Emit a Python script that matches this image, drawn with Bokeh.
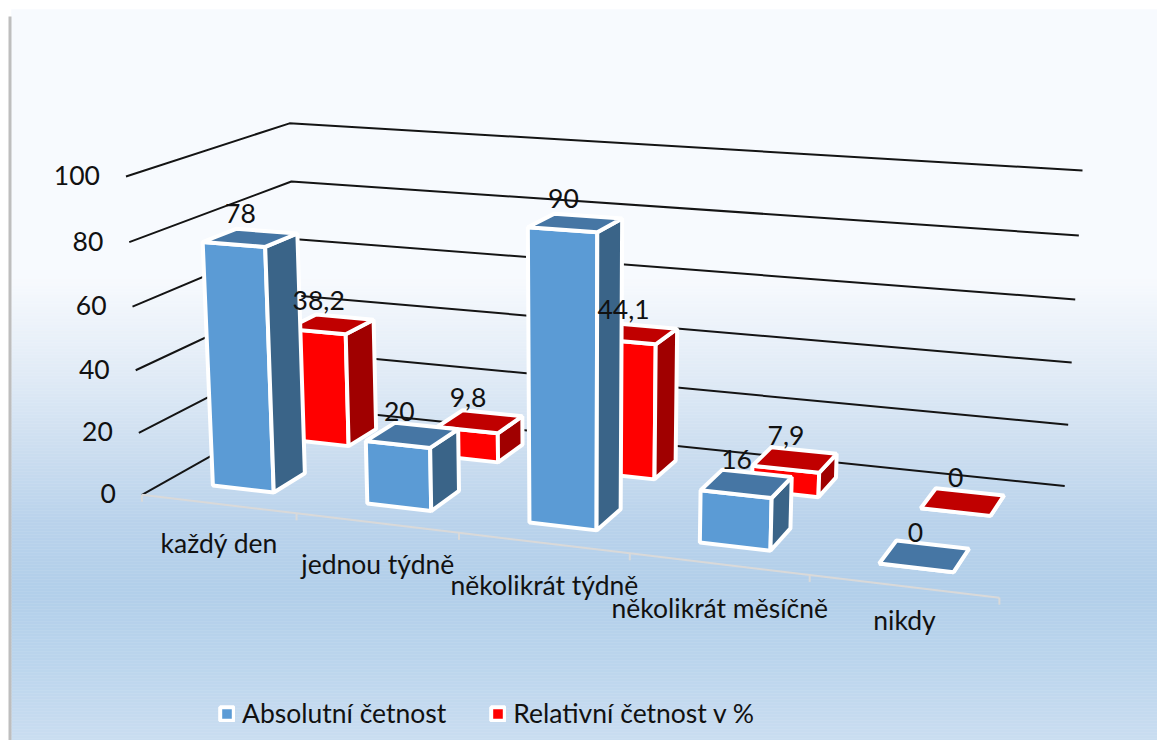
import numpy as np
from bokeh.plotting import figure
from bokeh.embed import file_html
from bokeh.resources import INLINE
from bokeh.core.properties import value
from bokeh.models import Legend, LegendItem

# ---- data ----
categories = ["každý den", "jednou týdně", "několikrát týdně", "několikrát měsíčně", "nikdy"]
absolute = [78, 20, 90, 16, 0]
relative = [38.2, 9.8, 44.1, 7.9, 0]
absolute_labels = ["78", "20", "90", "16", "0"]
relative_labels = ["38,2", "9,8", "44,1", "7,9", "0"]
value_ticks = [0, 20, 40, 60, 80, 100]
series_names = ["Absolutní četnost", "Relativní četnost v %"]

# ---- layout ----
W, H = 1157, 740
OX, OY = 0, 0
FONT = "Lato"
FS = "26.5px"
BLUE = ("#5B9BD5", "#3A6488", "#4676A4")
RED = ("#FF0000", "#A00000", "#C00000")
U_PAD = 0.3
W_BANDS = [(0.15, 0.35), (0.65, 0.85)]
CAT_LABEL_DY = [39, 41, 42, 44, 34]
ABS_LABEL_OFF = [(-10, -24), (-13, -24), (-12, -24), (-10, -24), (-9, -24)]
REL_LABEL_OFF = [(-12, -24), (-12, -24), (-11, -24), (-9, -24), (-7, -24)]

# ---- perspective calibration: (category pos, value, depth) -> picture pixels ----
calib = [
    (0, 0, 0, 143, 493), (0, 20, 0, 138, 432), (0, 40, 0, 135, 369), (0, 60, 0, 132, 306),
    (0, 80, 0, 128, 241), (0, 100, 0, 125, 175), (0, 100, 1, 290, 123), (0, 80, 1, 291, 182),
    (0, 60, 1, 293, 240), (0, 0, 1, 296, 405), (5, 100, 1, 1082, 170), (5, 80, 1, 1078, 235),
    (5, 60, 1, 1075, 299), (5, 40, 1, 1071, 362), (5, 20, 1, 1068, 423), (5, 0, 1, 1065, 485),
    (5, 0, 0, 998, 597), (1, 0, 0, 297, 515), (2, 0, 0, 459, 533), (3, 0, 0, 630, 554), (4, 0, 0, 808, 575),
]
A, b = [], []
for u, v, d, x, y in calib:
    q = (u / 5, v / 100, d)
    A.append([*q, 1, 0, 0, 0, 0, -x * q[0], -x * q[1], -x * q[2]]); b.append(x)
    A.append([0, 0, 0, 0, *q, 1, -y * q[0], -y * q[1], -y * q[2]]); b.append(y)
M = np.linalg.lstsq(np.array(A, float), np.array(b, float), rcond=None)[0]


def project(u, v, d):
    q = np.array([u / 5, v / 100, d, 1.0])
    den = M[8] * q[0] + M[9] * q[1] + M[10] * q[2] + 1
    return float(M[:4] @ q / den), float(M[4:8] @ q / den)


p = figure(width=W, height=H, x_range=(OX, OX + W), y_range=(OY + H, OY),
           x_axis_type=None, y_axis_type=None, toolbar_location=None,
           output_backend="svg", min_border=0, outline_line_color=None,
           background_fill_color="white", border_fill_color="white")
p.grid.visible = False

# ---- background gradient ----
stops_y = [9, 280, 370, 450, 520, 590, 660, 745]
stops_c = [(248, 251, 254), (247, 250, 254), (226, 236, 247), (204, 222, 240),
           (186, 211, 236), (178, 207, 234), (187, 213, 237), (203, 222, 241)]
edges = np.arange(9, 746, 3)
cols = []
for e in edges:
    c = [int(np.interp(e + 1.5, stops_y, [s[k] for s in stops_c])) for k in range(3)]
    cols.append("#%02x%02x%02x" % tuple(c))
p.quad(left=11, right=OX + W, top=edges, bottom=edges + 3, fill_color=cols, line_color=cols, line_width=0.5)
p.quad(left=[8], right=[11], top=[16], bottom=[745], fill_color="#BEBEBE", line_color=None)

# ---- gridlines (side wall + back wall) ----
gx, gy = [], []
for v in value_ticks:
    pts = [project(0, v, 0), project(0, v, 1), project(5, v, 1)]
    gx.append([a[0] for a in pts]); gy.append([a[1] for a in pts])
p.multi_line(gx, gy, line_color="#141414", line_width=2)

# ---- category axis ----
n = len(categories)
ax = [project(i, 0, 0) for i in range(n + 1)]
p.line([a[0] for a in ax], [a[1] for a in ax], line_color="#D9D9D9", line_width=2)
p.segment([a[0] for a in ax], [a[1] for a in ax], [a[0] for a in ax], [a[1] + 7 for a in ax],
          line_color="#D9D9D9", line_width=2)


# ---- bars ----
def bar_faces(values, band):
    d0, d1 = band
    front, side, top = ([], []), ([], []), ([], [])
    for i, val in enumerate(values):
        u0, u1 = i + U_PAD, i + 1 - U_PAD
        f = [project(u0, 0, d0), project(u1, 0, d0), project(u1, val, d0), project(u0, val, d0)]
        s = [project(u1, 0, d0), project(u1, 0, d1), project(u1, val, d1), project(u1, val, d0)]
        t = [project(u0, val, d0), project(u1, val, d0), project(u1, val, d1), project(u0, val, d1)]
        for store, face in ((front, f), (side, s), (top, t)):
            store[0].append([a[0] for a in face]); store[1].append([a[1] for a in face])
    return front, side, top


def draw(values, band, colours):
    front, side, top = bar_faces(values, band)
    r = p.patches(front[0], front[1], fill_color=colours[0], line_color="white", line_width=4)
    p.patches(side[0], side[1], fill_color=colours[1], line_color="white", line_width=4)
    p.patches(top[0], top[1], fill_color=colours[2], line_color="white", line_width=4)
    return r


r_rel = draw(relative, W_BANDS[1], RED)
r_abs = draw(absolute, W_BANDS[0], BLUE)

# ---- texts ----
def texts(xs, ys, labels, align="center"):
    p.text(xs, ys, text=labels, text_font=value(FONT), text_font_size=FS, text_color="#111111",
           text_align=align, text_baseline="middle")


tk = [project(0, v, 0) for v in value_ticks]
texts([a[0] - 26 for a in tk], [a[1] - 1 for a in tk], [str(v) for v in value_ticks], "right")

cx = [(ax[i][0] + ax[i + 1][0]) / 2 for i in range(n)]
cy = [(ax[i][1] + ax[i + 1][1]) / 2 + CAT_LABEL_DY[i] for i in range(n)]
texts(cx, cy, categories)


def value_labels(values, labels, band, offs):
    tops = [project(i + 0.5, v, sum(band) / 2) for i, v in enumerate(values)]
    texts([t[0] + o[0] for t, o in zip(tops, offs)], [t[1] + o[1] for t, o in zip(tops, offs)], labels)


value_labels(relative, relative_labels, W_BANDS[1], REL_LABEL_OFF)
value_labels(absolute, absolute_labels, W_BANDS[0], ABS_LABEL_OFF)

# ---- legend ----
legend = Legend(items=[LegendItem(label=series_names[0], renderers=[r_abs]),
                       LegendItem(label=series_names[1], renderers=[r_rel])],
                location=(218, 11), orientation="horizontal", glyph_width=17, glyph_height=17,
                label_text_font=FONT, label_text_font_size=FS, label_text_color="#111111",
                label_standoff=7, spacing=43, padding=0, margin=0,
                background_fill_alpha=0, border_line_alpha=0)
p.add_layout(legend, "center")

open("out.html", "w").write(file_html(p, INLINE))
